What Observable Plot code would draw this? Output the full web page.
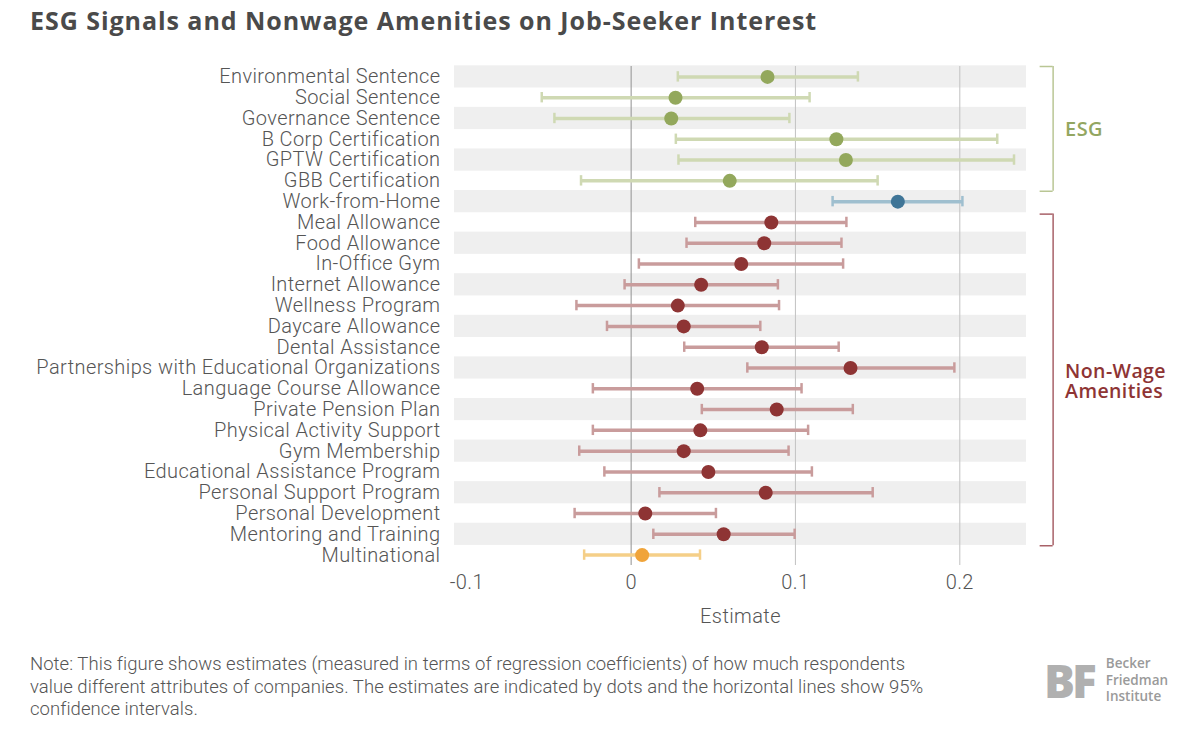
<!DOCTYPE html>
<html><head><meta charset="utf-8">
<script src="https://cdn.jsdelivr.net/npm/d3@7"></script>
<script src="https://cdn.jsdelivr.net/npm/@observablehq/plot@0.6"></script>
<style>
body{margin:0;background:#fff;width:1200px;height:731px;overflow:hidden;position:relative;font-family:Roboto,Lato,sans-serif}
#title{position:absolute;left:30px;top:3px;font-family:"Open Sans",sans-serif;font-weight:700;font-size:25px;color:#4a4a4a;letter-spacing:0.95px}
#chart{position:absolute;left:0;top:40px}
#note{position:absolute;left:30px;top:653px;font-size:18.5px;line-height:22.5px;color:#555;font-weight:300;letter-spacing:0.05px}
#logo{position:absolute;left:1044px;top:655px;display:flex;align-items:center}
#mark{font-family:"Open Sans",sans-serif;font-weight:800;font-size:46px;color:#b0b0b0;letter-spacing:-3px;line-height:46px}
#logotext{margin-left:12px;font-family:"Open Sans",sans-serif;font-weight:600;font-size:13.5px;line-height:16.5px;color:#9a9a9a}
svg text{letter-spacing:0.4px}
</style></head>
<body>
<div id="title">ESG Signals and Nonwage Amenities on Job-Seeker Interest</div>
<div id="chart"></div>
<div id="note">Note: This figure shows estimates (measured in terms of regression coefficients) of how much respondents<br>value different attributes of companies. The estimates are indicated by dots and the horizontal lines show 95%<br>confidence intervals.</div>
<div id="logo"><div id="mark">BF</div><div id="logotext">Becker<br>Friedman<br>Institute</div></div>
<script>
const labels = ["Environmental Sentence","Social Sentence","Governance Sentence","B Corp Certification","GPTW Certification","GBB Certification","Work-from-Home","Meal Allowance","Food Allowance","In-Office Gym","Internet Allowance","Wellness Program","Daycare Allowance","Dental Assistance","Partnerships with Educational Organizations","Language Course Allowance","Private Pension Plan","Physical Activity Support","Gym Membership","Educational Assistance Program","Personal Support Program","Personal Development","Mentoring and Training","Multinational"];
const groups = ["ESG","ESG","ESG","ESG","ESG","ESG","WFH","NW","NW","NW","NW","NW","NW","NW","NW","NW","NW","NW","NW","NW","NW","NW","NW","MN"];
const estimates = [0.083,0.027,0.0244,0.1249,0.1307,0.060,0.1623,0.0853,0.081,0.067,0.0426,0.0284,0.032,0.0795,0.1335,0.0402,0.0886,0.0421,0.032,0.047,0.0819,0.0086,0.0563,0.0067];
const lower = [0.0284,-0.0544,-0.0467,0.0272,0.0288,-0.0305,0.1226,0.039,0.0337,0.0047,-0.004,-0.0333,-0.0147,0.0323,0.0707,-0.0233,0.043,-0.0233,-0.0316,-0.0163,0.0172,-0.0344,0.0135,-0.0286];
const upper = [0.138,0.1086,0.0963,0.2228,0.233,0.150,0.2016,0.131,0.128,0.129,0.0893,0.090,0.0786,0.1263,0.1967,0.1037,0.1349,0.1077,0.0958,0.110,0.147,0.0516,0.0995,0.0419];
const xTicks = [-0.1,0,0.1,0.2];
const xTickLabels = ["-0.1","0","0.1","0.2"];
const bracketGroups = ["ESG","Non-Wage\nAmenities"];

const dotColor = {ESG:"#93a85c",WFH:"#3f7597",NW:"#8e3434",MN:"#f0a43a"};
const ciColor  = {ESG:"#cfd9b3",WFH:"#9fbfcf",NW:"#c99c9c",MN:"#f5cf88"};

const rows = labels.map((l,i)=>({i,label:l,group:groups[i],est:estimates[i],lo:lower[i],hi:upper[i]}));
const stripes = rows.filter(d=>d.i%2===0);
const xDom = [-0.1075,0.2406];

const chart = Plot.plot({
  width:1200, height:600,
  marginLeft:454, marginRight:174, marginTop:26, marginBottom:75,
  style:{fontFamily:"Roboto, Lato, sans-serif", fontWeight:300, fontSize:"20px", color:"#555", background:"#fff"},
  x:{domain:xDom, ticks:xTicks, tickFormat:(d)=>xTickLabels[xTicks.indexOf(d)] ?? ""},
  y:{domain:[-0.5,23.5], reverse:true},
  marks:[
    Plot.rect(stripes,{x1:xDom[0],x2:xDom[1],y1:d=>d.i-0.5,y2:d=>d.i+0.5,fill:"#efefef",insetTop:-0.7,insetBottom:-0.7}),
    Plot.ruleX(xTicks.slice(1),{stroke:d=>d===0?"#9a9a9a":"#c6c6c6",strokeWidth:1.1}),
    Plot.ruleY(rows,{x1:"lo",x2:"hi",y:"i",stroke:d=>ciColor[d.group],strokeWidth:3.5}),
    Plot.ruleX(rows,{x:"lo",y1:d=>d.i-0.25,y2:d=>d.i+0.25,stroke:d=>ciColor[d.group],strokeWidth:2.5}),
    Plot.ruleX(rows,{x:"hi",y1:d=>d.i-0.25,y2:d=>d.i+0.25,stroke:d=>ciColor[d.group],strokeWidth:2.5}),
    Plot.dot(rows,{x:"est",y:"i",r:7,fill:d=>dotColor[d.group]}),
    Plot.axisX({ticks:xTicks,tickSize:0,tickPadding:9,fontSize:20,tickFormat:(d)=>xTickLabels[xTicks.indexOf(d)],label:null}),
    Plot.axisY({ticks:rows.map(d=>d.i),tickFormat:i=>labels[i],tickSize:0,tickPadding:14,fontSize:20,label:null}),
    Plot.text(["Estimate"],{frameAnchor:"bottom",dy:51,lineAnchor:"middle",fontSize:20}),
    // ESG bracket
    Plot.ruleX([0],{x:()=>0.2568,y1:-0.5,y2:5.5,stroke:"#b9c694",strokeWidth:1.5}),
    Plot.ruleY([-0.5,5.5],{y:d=>d,x1:0.2489,x2:0.2568,stroke:"#b9c694",strokeWidth:1.5}),
    Plot.text([bracketGroups[0]],{x:0.2641,y:2.54,text:d=>d,textAnchor:"start",fill:"#93a661",fontSize:20,fontWeight:600,fontFamily:"Open Sans, sans-serif"}),
    // Non-wage bracket
    Plot.ruleX([0],{x:()=>0.2568,y1:6.6,y2:22.55,stroke:"#a86168",strokeWidth:1.5}),
    Plot.ruleY([6.6,22.55],{y:d=>d,x1:0.2489,x2:0.2568,stroke:"#a86168",strokeWidth:1.5}),
    Plot.text([bracketGroups[1]],{x:0.2641,y:14.67,text:d=>d,textAnchor:"start",fill:"#8e3434",fontSize:19.5,fontWeight:600,lineHeight:1.0,fontFamily:"Open Sans, sans-serif"})
  ]
});
document.getElementById("chart").appendChild(chart);
</script>
</body></html>
